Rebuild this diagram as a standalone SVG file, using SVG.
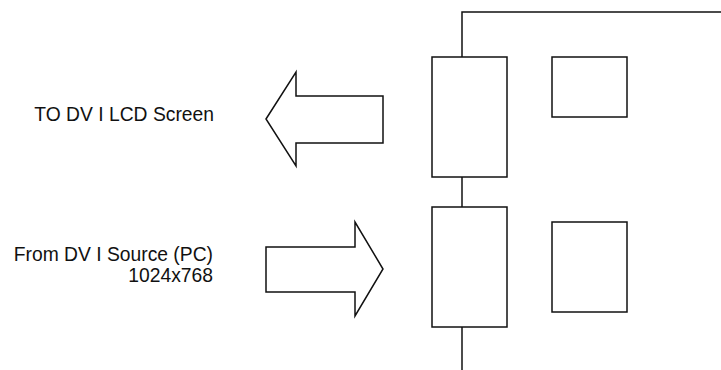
<svg xmlns="http://www.w3.org/2000/svg" width="721" height="370" viewBox="0 0 721 370">
<style>
.shape{fill:#fff;stroke:#111;stroke-width:1.5}
.line{fill:none;stroke:#111;stroke-width:1.5}
.lbl{font-family:"Liberation Sans",Arial,sans-serif;font-size:19.3px;fill:#111;text-anchor:end}
</style>
<rect width="721" height="370" fill="#fff"/>
<g id="connectors">
<path class="line" d="M462 57 V12 H721"/>
<path class="line" d="M462 177 V207"/>
<path class="line" d="M462 327 V370"/>
</g>
<g id="port-top"><rect class="shape" x="432" y="57" width="75" height="120"/></g>
<g id="port-bottom"><rect class="shape" x="432" y="207" width="75" height="120"/></g>
<g id="chip-top"><rect class="shape" x="552" y="57" width="75" height="60"/></g>
<g id="chip-bottom"><rect class="shape" x="552" y="222" width="75" height="90"/></g>
<g id="arrow-out"><polygon class="shape" points="266,119 296,72 296,96 383,96 383,143 296,143 296,166"/></g>
<g id="arrow-in"><polygon class="shape" points="266,247 355,247 355,222 383,269 355,316 355,292 266,292"/></g>
<g id="label-out"><text class="lbl" x="214" y="121">TO DV I LCD Screen</text></g>
<g id="label-in"><text class="lbl" x="213" y="261">From DV I Source (PC)</text><text class="lbl" x="213" y="282">1024x768</text></g>
</svg>
